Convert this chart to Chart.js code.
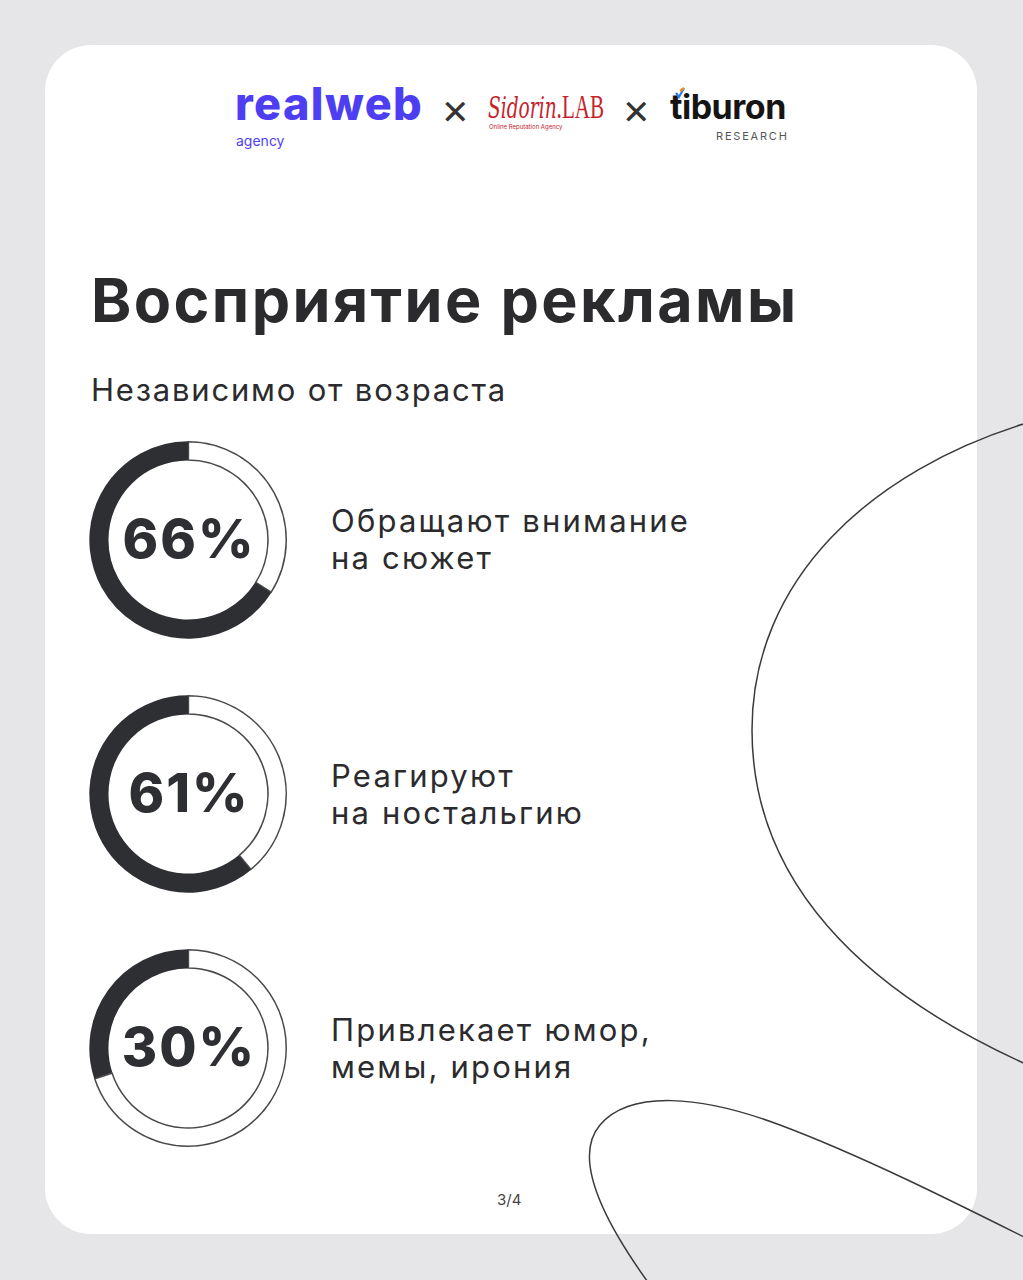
<!DOCTYPE html>
<html lang="ru">
<head>
<meta charset="utf-8">
<script src="https://cdn.jsdelivr.net/npm/chart.js@4.4.1/dist/chart.umd.min.js"></script>
<style>
  html, body { margin: 0; padding: 0; }
  body { width: 1023px; height: 1280px; background: #e6e6e8; position: relative; overflow: hidden; font-family: Inter, "Noto Sans", sans-serif; color: #2b2b2e; }
  .card { position: absolute; left: 45px; top: 45px; width: 932px; height: 1189px; background: #fff; border-radius: 46px; }
  .abs { position: absolute; white-space: nowrap; }
  svg.deco { position: absolute; left: 0; top: 0; }
  canvas.donut { position: absolute; }
  .lbl { font-size: 31px; line-height: 37px; letter-spacing: 2.2px; }
</style>
</head>
<body>
<div class="card"></div>

<svg class="deco" width="1023" height="1280">
  <path d="M1030 422 C 870 470, 752 580, 752 730 C 752 880, 860 990, 1030 1066" fill="none" stroke="#3a3a3c" stroke-width="1.5"/>
  <path d="M650 1285 C 610 1230, 570 1160, 600 1125 C 630 1090, 700 1095, 780 1125 C 860 1155, 950 1200, 1030 1240" fill="none" stroke="#3a3a3c" stroke-width="1.5"/>
</svg>

<!-- логотипы -->
<div class="abs" style="left:235px;top:87px;font-size:45px;line-height:34px;font-weight:800;letter-spacing:1.4px;color:#4e3ef2;">realweb</div>
<div class="abs" style="left:236px;top:134px;font-size:14px;line-height:14px;color:#4e3ef2;">agency</div>
<div class="abs" style="left:441px;top:95px;font-size:34px;line-height:34px;font-weight:200;color:#333;">&#x2715;</div>
<div class="abs" style="left:488px;top:90px;font-size:30px;line-height:34px;font-family:'DejaVu Serif',serif;font-style:italic;color:#c6232d;transform:scaleX(0.62);transform-origin:0 0;">Sidorin<span style="font-style:normal;font-family:'Liberation Serif',serif;font-size:34px;">.LAB</span></div>
<div class="abs" style="left:489px;top:124px;font-size:6px;line-height:6px;color:#c6232d;">Online Reputation Agency</div>
<div class="abs" style="left:622px;top:95px;font-size:34px;line-height:34px;font-weight:200;color:#333;">&#x2715;</div>
<div class="abs" style="left:670px;top:93px;font-size:34px;line-height:28px;font-weight:700;letter-spacing:-0.5px;color:#151515;">tiburon</div>
<div class="abs" style="left:716px;top:131px;font-size:11px;line-height:11px;letter-spacing:1.8px;color:#555;">RESEARCH</div>
<svg class="deco" width="1023" height="1280">
  <path d="M676 93 L679 97 L684 88" fill="none" stroke="#2f7de1" stroke-width="2.2"/>
  <path d="M680 91 L684 88" fill="none" stroke="#f08a24" stroke-width="2.2"/>
</svg>

<div class="abs" style="left:91px;top:270px;font-size:61px;line-height:60px;font-weight:700;letter-spacing:2.4px;color:#2b2b2e;">Восприятие рекламы</div>
<div class="abs" style="left:91px;top:374px;font-size:31px;line-height:32px;font-weight:400;letter-spacing:1.8px;color:#2b2b2e;">Независимо от возраста</div>

<canvas id="d0" class="donut" width="200" height="200" style="left:88px;top:440px;"></canvas>
<canvas id="d1" class="donut" width="200" height="200" style="left:88px;top:694px;"></canvas>
<canvas id="d2" class="donut" width="200" height="200" style="left:88px;top:948px;"></canvas>

<div id="l0" class="abs lbl" style="left:331px;top:502px;"></div>
<div id="l1" class="abs lbl" style="left:331px;top:757px;"></div>
<div id="l2" class="abs lbl" style="left:331px;top:1011px;"></div>

<div class="abs" style="left:497px;top:1192px;font-size:15px;line-height:16px;color:#444;">3/4</div>

<script>
// данные
const percents = [66, 61, 30];
const labels = [
  ["Обращают внимание", "на сюжет"],
  ["Реагируют", "на ностальгию"],
  ["Привлекает юмор,", "мемы, ирония"]
];

const darkColor = '#2e2f33';

// подпись в центре кольца
const centerText = {
  id: 'centerText',
  afterDraw(chart) {
    const meta = chart.getDatasetMeta(0).data[0];
    const ctx = chart.ctx;
    ctx.save();
    ctx.font = '800 54px Inter, "Noto Sans", sans-serif';
    ctx.letterSpacing = '2px';
    ctx.fillStyle = darkColor;
    ctx.textAlign = 'center';
    ctx.textBaseline = 'middle';
    ctx.fillText(chart.options.plugins.centerText.text, meta.x + 1, meta.y + 2);
    ctx.restore();
  }
};

percents.forEach((p, i) => {
  new Chart(document.getElementById('d' + i), {
    type: 'doughnut',
    data: {
      labels: ['остальные', 'доля'],
      datasets: [{
        data: [100 - p, p],
        backgroundColor: ['#ffffff', darkColor],
        borderColor: ['#4a4a4d', darkColor],
        borderWidth: [1.2, 0],
        borderAlign: 'inner'
      }]
    },
    options: {
      responsive: false,
      animation: false,
      cutout: '80%',
      events: [],
      layout: { padding: 1 },
      plugins: {
        legend: { display: false },
        tooltip: { enabled: false },
        centerText: { text: p + '%' }
      }
    },
    plugins: [centerText]
  });
  document.getElementById('l' + i).innerHTML = labels[i].join('<br>');
});
</script>
</body>
</html>
